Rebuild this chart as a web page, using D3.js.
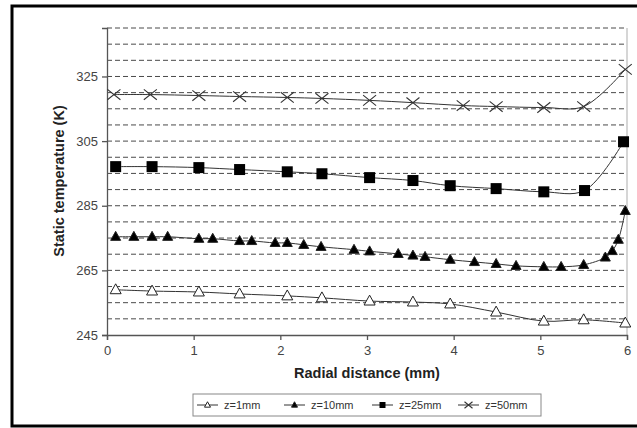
<!DOCTYPE html>
<html>
<head>
<meta charset="UTF-8">
<script src="https://d3js.org/d3.v7.min.js"></script>
<style>
  body { margin: 0; background: #fff; }
  text { font-family: "Liberation Sans", Arial, sans-serif; }
</style>
</head>
<body>
<svg id="chart"></svg>
<script>
// data
var xTicks = [0, 1, 2, 3, 4, 5, 6];
var yTicks = [245, 265, 285, 305, 325];
var gridValues = [250, 255, 260, 265, 270, 275, 280, 285, 290, 295, 300, 305, 310, 315, 320, 325, 330, 335, 340];

var r1 = [0.10, 0.52, 1.06, 1.53, 2.08, 2.48, 3.03, 3.53, 3.96, 4.49, 5.04, 5.50, 5.98];
var t1 = [259.0, 258.6, 258.3, 257.7, 257.1, 256.5, 255.5, 255.2, 254.6, 252.1, 249.3, 249.7, 248.7];

var r10 = [0.10, 0.31, 0.52, 0.70, 1.06, 1.22, 1.53, 1.67, 1.94, 2.08, 2.27, 2.47, 2.85, 3.03, 3.36, 3.53, 3.67, 3.96, 4.24, 4.49, 4.72, 5.04, 5.24, 5.50, 5.75, 5.83, 5.90, 5.98];
var t10 = [275.4, 275.4, 275.4, 275.4, 274.8, 274.8, 274.1, 274.1, 273.5, 273.5, 272.9, 272.3, 271.4, 270.9, 270.1, 269.6, 269.2, 268.3, 267.6, 267.0, 266.4, 266.1, 266.1, 266.7, 269.0, 271.0, 274.5, 283.4];

var r25 = [0.10, 0.52, 1.06, 1.53, 2.08, 2.48, 3.03, 3.53, 3.96, 4.49, 5.04, 5.51, 5.96];
var t25 = [297.1, 297.1, 296.8, 296.2, 295.5, 294.9, 293.7, 292.8, 291.2, 290.3, 289.3, 289.7, 304.8];

var r50 = [0.08, 0.50, 1.06, 1.53, 2.08, 2.48, 3.03, 3.53, 4.11, 4.49, 5.04, 5.50, 5.98];
var t50 = [319.4, 319.4, 319.1, 318.8, 318.5, 318.2, 317.6, 316.9, 316.0, 315.7, 315.4, 315.7, 327.2];

var seriesNames = ["z=1mm", "z=10mm", "z=25mm", "z=50mm"];
var seriesR = [r1, r10, r25, r50];
var seriesT = [t1, t10, t25, t50];
var seriesMarker = ["openTri", "tri", "square", "cross"];

(function() {
  var width = 637, height = 428;
  var svg = d3.select("#chart").attr("width", width).attr("height", height);

  // outer frame
  svg.append("rect").attr("x", 12).attr("y", 6).attr("width", 640).attr("height", 420)
    .attr("fill", "none").attr("stroke", "#000").attr("stroke-width", 3);

  var pl = 107, pr = 627, pt = 28, pb = 335;
  var x = d3.scaleLinear().domain([0, 6]).range([pl, pr]);
  var y = d3.scaleLinear().domain([245, 340]).range([pb, pt]);

  // dashed gridlines
  svg.append("g").selectAll("line").data(gridValues).enter().append("line")
    .attr("x1", pl).attr("x2", pr)
    .attr("y1", function(d) { return y(d); }).attr("y2", function(d) { return y(d); })
    .attr("stroke", "#4a4a4a").attr("stroke-width", 1).attr("stroke-dasharray", "5,3");

  // right border of plot
  svg.append("line").attr("x1", pr).attr("x2", pr).attr("y1", pt).attr("y2", pb)
    .attr("stroke", "#bbb").attr("stroke-width", 1.2);

  // axes
  var yAxis = svg.append("g").attr("transform", "translate(" + pl + ",0)")
    .call(d3.axisLeft(y).tickValues(yTicks).tickFormat(d3.format("d")).tickSize(5).tickPadding(4));
  var xAxis = svg.append("g").attr("transform", "translate(0," + pb + ")")
    .call(d3.axisBottom(x).tickValues(xTicks).tickFormat(d3.format("d")).tickSize(5).tickPadding(6));
  [xAxis, yAxis].forEach(function(a) {
    a.select(".domain").attr("stroke", "#555").attr("stroke-width", 1.3);
    a.selectAll(".tick line").attr("stroke", "#555").attr("stroke-width", 1.3);
    a.selectAll("text").attr("fill", "#444").style("font-size", "13px")
      .style("font-family", "'Liberation Sans', Arial, sans-serif");
  });

  // axis titles
  svg.append("text").attr("x", (pl + pr) / 2).attr("y", 378)
    .attr("text-anchor", "middle").attr("font-weight", "bold").attr("font-size", 14.5).attr("fill", "#222")
    .text("Radial distance (mm)");
  svg.append("text").attr("transform", "translate(64,181)rotate(-90)")
    .attr("text-anchor", "middle").attr("font-weight", "bold").attr("font-size", 14.5).attr("fill", "#222")
    .text("Static temperature (K)");

  function drawMarker(g, type, cx, cy, s) {
    if (type === "openTri" || type === "tri") {
      var h = s * 0.9;
      g.append("path")
        .attr("d", "M" + cx + "," + (cy - h * 0.6) + "L" + (cx + s / 2) + "," + (cy + h * 0.4) + "L" + (cx - s / 2) + "," + (cy + h * 0.4) + "Z")
        .attr("fill", type === "tri" ? "#000" : "#fff").attr("stroke", "#222").attr("stroke-width", 1);
    } else if (type === "square") {
      g.append("rect").attr("x", cx - s / 2).attr("y", cy - s / 2).attr("width", s).attr("height", s)
        .attr("fill", "#000");
    } else {
      var d = s / 2;
      g.append("path")
        .attr("d", "M" + (cx - d) + "," + (cy - d * 0.8) + "L" + (cx + d) + "," + (cy + d * 0.8) +
                   "M" + (cx - d) + "," + (cy + d * 0.8) + "L" + (cx + d) + "," + (cy - d * 0.8))
        .attr("stroke", "#333").attr("stroke-width", 1.1).attr("fill", "none");
    }
  }

  var line = d3.line().curve(d3.curveCatmullRom.alpha(0.5))
    .x(function(d) { return x(d[0]); }).y(function(d) { return y(d[1]); });

  var markerSize = [11, 10, 11, 13];
  seriesNames.forEach(function(name, i) {
    var pts = seriesR[i].map(function(r, j) { return [r, seriesT[i][j]]; });
    var g = svg.append("g");
    g.append("path").datum(pts).attr("d", line)
      .attr("fill", "none").attr("stroke", "#333").attr("stroke-width", 1);
    pts.forEach(function(p) {
      drawMarker(g, seriesMarker[i], x(p[0]), y(p[1]), markerSize[i]);
    });
  });

  // legend
  var lg = svg.append("g");
  lg.append("rect").attr("x", 193).attr("y", 394).attr("width", 348).attr("height", 22)
    .attr("fill", "#fff").attr("stroke", "#888").attr("stroke-width", 1);
  var legendX = [197, 284, 372, 458];
  seriesNames.forEach(function(name, i) {
    var lx = legendX[i], ly = 405;
    lg.append("line").attr("x1", lx).attr("x2", lx + 21).attr("y1", ly).attr("y2", ly)
      .attr("stroke", "#333").attr("stroke-width", 1);
    drawMarker(lg, seriesMarker[i], lx + 10.5, ly, i === 3 ? 8 : 6);
    lg.append("text").attr("x", lx + 27).attr("y", ly + 4).attr("font-size", 11).attr("fill", "#333")
      .text(name);
  });
})();
</script>
</body>
</html>
